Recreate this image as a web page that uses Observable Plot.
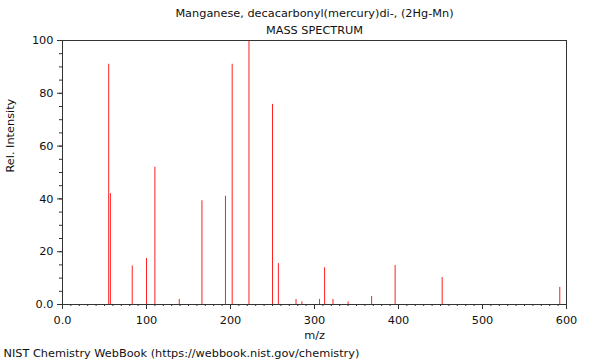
<!DOCTYPE html>
<html>
<head>
<meta charset="utf-8">
<script src="https://cdn.jsdelivr.net/npm/d3@7"></script>
<script src="https://cdn.jsdelivr.net/npm/@observablehq/plot@0.6"></script>
<style>
  html, body { margin: 0; padding: 0; background: #fff; }
</style>
</head>
<body>
<div id="chart"></div>
<script>
const title = "Manganese, decacarbonyl(mercury)di-, (2Hg-Mn)";
const subtitle = "MASS SPECTRUM";
const xLabel = "m/z";
const yLabel = "Rel. Intensity";
const footer = "NIST Chemistry WebBook (https://webbook.nist.gov/chemistry)";

const mz =        [55, 57, 83, 100, 110, 139, 166, 194, 202, 222, 250, 257, 278, 285, 306, 312, 322, 340, 368, 396, 452, 592];
const intensity = [91, 42, 14.6, 17.4, 52, 1.9, 39.3, 41, 91, 100, 75.8, 15.5, 1.9, 1.0, 1.9, 13.9, 1.9, 1.0, 3.0, 14.8, 10.2, 6.5];

const xTicks = [0, 100, 200, 300, 400, 500, 600];
const yTicks = [0, 20, 40, 60, 80, 100];

const data = mz.map((m, i) => ({mz: m, intensity: intensity[i]}));
const fmt = d => d === 0 ? "0.0" : String(d);
const axisColor = "#333";

const chart = Plot.plot({
  width: 600,
  height: 360,
  marginTop: 40,
  marginBottom: 56,
  marginLeft: 62,
  marginRight: 34,
  style: {fontFamily: "DejaVu Sans", fontSize: "11.3px", color: "#111", background: "#fff"},
  x: {domain: [0, 600]},
  y: {domain: [0, 100]},
  marks: [
    Plot.ruleX(data, {x: "mz", y1: 0, y2: "intensity", stroke: "#ff2020", strokeWidth: 1}),
    Plot.frame({stroke: axisColor}),
    Plot.axisX({ticks: d3.range(0, 601, 10), tickSize: 2, text: null, label: null, stroke: axisColor}),
    Plot.axisX({ticks: xTicks, tickSize: 5, tickPadding: 6, tickFormat: fmt, label: null, stroke: axisColor, fill: "#111"}),
    Plot.axisY({ticks: d3.range(0, 101, 5), tickSize: 3, text: null, label: null, stroke: axisColor}),
    Plot.axisY({ticks: yTicks, tickSize: 5, tickPadding: 4, tickFormat: fmt, label: null, stroke: axisColor, fill: "#111"}),
    Plot.text([title], {frameAnchor: "top", dy: -32, text: d => d, fill: "#111"}),
    Plot.text([subtitle], {frameAnchor: "top", dy: -15, text: d => d, fill: "#111"}),
    Plot.text([xLabel], {frameAnchor: "bottom", dy: 34, text: d => d, fill: "#111"}),
    Plot.text([yLabel], {frameAnchor: "left", dx: -52, rotate: -90, text: d => d, fill: "#111"}),
    Plot.text([footer], {frameAnchor: "bottom-left", dx: -59, dy: 52, textAnchor: "start", text: d => d, fill: "#111"})
  ]
});
document.getElementById("chart").appendChild(chart);
</script>
</body>
</html>
